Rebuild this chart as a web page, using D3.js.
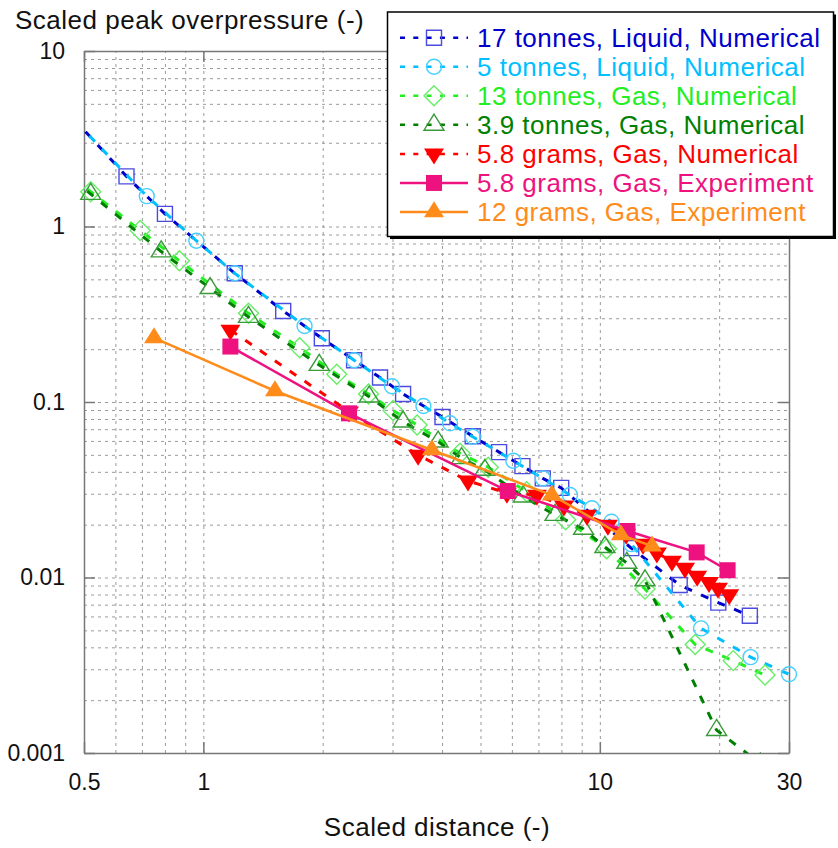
<!DOCTYPE html>
<html>
<head>
<meta charset="utf-8">
<script src="https://cdnjs.cloudflare.com/ajax/libs/d3/7.8.5/d3.min.js"></script>
<style>
  body { margin: 0; background: #fff; }
  svg { display: block; font-family: "Liberation Sans", Arial, sans-serif; }
</style>
</head>
<body>
<svg id="chart" width="838" height="848"></svg>
<script>

// Series data
const liquid17X = [0.47, 0.64, 0.80, 1.20, 1.59, 1.99, 2.40, 2.79, 3.19, 4.01, 4.78, 5.57, 6.38, 7.18, 7.99, 12.0, 15.9, 19.9, 23.9]
const liquid17Y = [4.13, 1.93, 1.18, 0.541, 0.330, 0.231, 0.173, 0.138, 0.111, 0.0821, 0.0638, 0.0518, 0.0431, 0.0367, 0.0324, 0.0147, 0.00906, 0.00719, 0.00605]

const liquid5X = [0.48, 0.72, 0.96, 1.20, 1.80, 2.40, 2.99, 3.59, 4.19, 4.78, 6.05, 7.18, 8.41, 9.55, 10.7, 12.0, 18.0, 24.0, 30.0]
const liquid5Y = [3.9, 1.49, 0.830, 0.541, 0.271, 0.173, 0.123, 0.0949, 0.0756, 0.0634, 0.0463, 0.0367, 0.0295, 0.0248, 0.0208, 0.0155, 0.00513, 0.00352, 0.00281]

const gas13X = [0.47, 0.52, 0.693, 0.87, 1.30, 1.75, 2.17, 2.61, 3.01, 3.46, 4.44, 5.23, 6.54, 8.2, 10.4, 13.0, 17.4, 21.7, 26.1]
const gas13Y = [1.89, 1.58, 0.95, 0.638, 0.320, 0.204, 0.144, 0.111, 0.0895, 0.0740, 0.0510, 0.0425, 0.0308, 0.0213, 0.0146, 0.0086, 0.00415, 0.00336, 0.00278]

const gas39X = [0.47, 0.52, 0.783, 1.04, 1.30, 1.96, 2.62, 3.19, 3.91, 4.48, 5.13, 6.41, 7.71, 9.10, 10.3, 11.7, 13.0, 19.7, 25.4]
const gas39Y = [1.85, 1.53, 0.720, 0.445, 0.305, 0.1625, 0.1072, 0.0772, 0.0594, 0.0478, 0.0410, 0.0289, 0.0227, 0.0189, 0.0149, 0.0121, 0.00962, 0.00135, 0.00087]

const grams58NumX = [1.17, 2.33, 3.48, 4.65, 5.83, 6.94, 8.12, 9.28, 10.48, 11.65, 12.85, 13.93, 15.2, 16.4, 17.6, 18.85, 19.86, 21.2]
const grams58NumY = [0.257, 0.088, 0.0499, 0.0355, 0.0303, 0.0295, 0.0256, 0.0227, 0.0199, 0.0177, 0.0155, 0.0138, 0.0124, 0.0113, 0.0102, 0.0094, 0.0087, 0.0080]

const grams58ExpX = [1.17, 2.33, 5.86, 11.74, 17.55, 21.0]
const grams58ExpY = [0.207, 0.0862, 0.0311, 0.0184, 0.0139, 0.0110]

const grams12ExpX = [0.751, 1.516, 3.77, 7.57, 11.3, 13.54]
const grams12ExpY = [0.232, 0.1155, 0.0533, 0.0295, 0.0175, 0.0151]

const seriesNames = [
    '17 tonnes, Liquid, Numerical',
    '5 tonnes, Liquid, Numerical',
    '13 tonnes, Gas, Numerical',
    '3.9 tonnes, Gas, Numerical',
    '5.8 grams, Gas, Numerical',
    '5.8 grams, Gas, Experiment',
    '12 grams, Gas, Experiment'
]

// Axis ticks
const xTickValues = [0.5, 1, 10, 30]
const xTickLabels = ['0.5', '1', '10', '30']
const yTickValues = [10, 1, 0.1, 0.01, 0.001]
const yTickLabels = ['10', '1', '0.1', '0.01', '0.001']

// Chart area
const plotLeft = 84, plotRight = 789, plotTop = 51, plotBottom = 753
const frameColor = '#777'

const svg = d3.select('#chart')

const x = d3.scaleLog().domain([0.5, 30]).range([plotLeft, plotRight])
const y = d3.scaleLog().domain([0.001, 10]).range([plotBottom, plotTop])

// Grid values: every 1..9 step of each decade
const gridX = []
const gridY = []
for (let d = -1; d <= 1; d++){
    for (let k = 1; k <= 9; k++){
        const v = k * Math.pow(10, d)
        if (v > 0.5 && v < 30) gridX.push(v)
    }
}
for (let d = -3; d <= 0; d++){
    for (let k = 1; k <= 9; k++){
        const v = k * Math.pow(10, d)
        if (v > 0.001 && v < 10) gridY.push(v)
    }
}

// Dotted grid
svg.append('g')
    .attr('transform', 'translate(0,' + plotBottom + ')')
    .call(d3.axisBottom(x).tickValues(gridX).tickSize(-(plotBottom - plotTop)).tickFormat(''))
    .call(g => g.select('.domain').remove())
    .selectAll('line')
    .attr('stroke', '#9a9a9a')
    .attr('stroke-width', 1)
    .attr('stroke-dasharray', '3,4')

svg.append('g')
    .attr('transform', 'translate(' + plotLeft + ',0)')
    .call(d3.axisLeft(y).tickValues(gridY).tickSize(-(plotRight - plotLeft)).tickFormat(''))
    .call(g => g.select('.domain').remove())
    .selectAll('line')
    .attr('stroke', '#9a9a9a')
    .attr('stroke-width', 1)
    .attr('stroke-dasharray', '3,4')

// Frame and major ticks
function styleAxis(g){
    g.select('.domain').attr('stroke', frameColor).attr('stroke-width', 1.5)
    g.selectAll('.tick line').attr('stroke', frameColor).attr('stroke-width', 1.5)
    g.selectAll('text').attr('font-size', 23).attr('fill', '#111').attr('font-family', '"Liberation Sans", Arial, sans-serif')
}

svg.append('g')
    .attr('transform', 'translate(0,' + plotBottom + ')')
    .call(d3.axisBottom(x).tickValues(xTickValues).tickSizeInner(-11).tickSizeOuter(0).tickPadding(21)
        .tickFormat((_, i) => xTickLabels[i]))
    .call(styleAxis)

svg.append('g')
    .attr('transform', 'translate(0,' + plotTop + ')')
    .call(d3.axisTop(x).tickValues(xTickValues).tickSizeInner(-11).tickSizeOuter(0).tickFormat(''))
    .call(styleAxis)

svg.append('g')
    .attr('transform', 'translate(' + plotLeft + ',0)')
    .call(d3.axisLeft(y).tickValues(yTickValues).tickSizeInner(-11).tickSizeOuter(0).tickPadding(19)
        .tickFormat((_, i) => yTickLabels[i]))
    .call(styleAxis)

svg.append('g')
    .attr('transform', 'translate(' + plotRight + ',0)')
    .call(d3.axisRight(y).tickValues(yTickValues).tickSizeInner(-11).tickSizeOuter(0).tickFormat(''))
    .call(styleAxis)

// Axis titles
svg.append('text')
    .attr('x', 15)
    .attr('y', 29)
    .attr('font-size', 26)
    .attr('letter-spacing', 0.5)
    .attr('fill', '#111')
    .text('Scaled peak overpressure (-)')

svg.append('text')
    .attr('x', 437)
    .attr('y', 836)
    .attr('text-anchor', 'middle')
    .attr('font-size', 26)
    .attr('letter-spacing', 0.5)
    .attr('fill', '#111')
    .text('Scaled distance (-)')

// Clips: lines stay in the plot, markers only cut at the bottom axis
const defs = svg.append('defs')
defs.append('clipPath').attr('id', 'plot-clip')
    .append('rect')
    .attr('x', plotLeft).attr('y', plotTop)
    .attr('width', plotRight - plotLeft).attr('height', plotBottom - plotTop)
defs.append('clipPath').attr('id', 'marker-clip')
    .append('rect')
    .attr('x', 0).attr('y', 0)
    .attr('width', 838).attr('height', plotBottom)

// Marker shapes
function markerPath(type){
    const p = d3.path()
    const tw = 20, th = 16
    if (type == 'square'){
        p.rect(-7.5, -7.5, 15, 15)
    } else if (type == 'bigSquare'){
        p.rect(-8, -8, 16, 16)
    } else if (type == 'circle'){
        p.moveTo(7.5, 0)
        p.arc(0, 0, 7.5, 0, 2 * Math.PI)
    } else if (type == 'diamond'){
        p.moveTo(0, -10); p.lineTo(10, 0); p.lineTo(0, 10); p.lineTo(-10, 0); p.closePath()
    } else if (type == 'triangleUp'){
        p.moveTo(0, -th * 2 / 3); p.lineTo(tw / 2, th / 3); p.lineTo(-tw / 2, th / 3); p.closePath()
    } else if (type == 'triangleDown'){
        p.moveTo(0, th * 2 / 3); p.lineTo(tw / 2, -th / 3); p.lineTo(-tw / 2, -th / 3); p.closePath()
    }
    return p.toString()
}

const seriesList = [
    {name: seriesNames[0], xs: liquid17X, ys: liquid17Y, color: '#0000cc', markerColor: '#4b4be0', marker: 'square', filled: false, dashed: true},
    {name: seriesNames[1], xs: liquid5X, ys: liquid5Y, color: '#00bfff', markerColor: '#45cfff', marker: 'circle', filled: false, dashed: true},
    {name: seriesNames[2], xs: gas13X, ys: gas13Y, color: '#22ee22', markerColor: '#66ee66', marker: 'diamond', filled: false, dashed: true},
    {name: seriesNames[3], xs: gas39X, ys: gas39Y, color: '#008000', markerColor: '#3a9a3a', marker: 'triangleUp', filled: false, dashed: true},
    {name: seriesNames[4], xs: grams58NumX, ys: grams58NumY, color: '#ff0000', markerColor: '#ff0000', marker: 'triangleDown', filled: true, dashed: true},
    {name: seriesNames[5], xs: grams58ExpX, ys: grams58ExpY, color: '#ee1180', markerColor: '#ee1180', marker: 'bigSquare', filled: true, dashed: false},
    {name: seriesNames[6], xs: grams12ExpX, ys: grams12ExpY, color: '#ff8c1a', markerColor: '#ff8c1a', marker: 'triangleUp', filled: true, dashed: false}
]

const line = d3.line()
    .x(d => x(d[0]))
    .y(d => y(d[1]))

// Draw Series
seriesList.forEach(function(s){
    const pts = s.xs.map((v, i) => [v, s.ys[i]])

    svg.append('path')
        .datum(pts)
        .attr('clip-path', 'url(#plot-clip)')
        .attr('fill', 'none')
        .attr('stroke', s.color)
        .attr('stroke-width', s.dashed ? 3 : 2.5)
        .attr('stroke-dasharray', s.dashed ? '8,10' : null)
        .attr('d', line)

    svg.append('g')
        .attr('clip-path', 'url(#marker-clip)')
        .selectAll('path')
        .data(pts.filter(d => d[0] >= 0.5))
        .enter()
        .append('path')
        .attr('transform', d => 'translate(' + x(d[0]) + ',' + y(d[1]) + ')')
        .attr('d', markerPath(s.marker))
        .attr('fill', s.filled ? s.markerColor : 'none')
        .attr('stroke', s.filled ? 'none' : s.markerColor)
        .attr('stroke-width', 1.4)
})

// Legend
const legend = svg.append('g')
legend.append('rect')
    .attr('x', 390).attr('y', 14.5)
    .attr('width', 446).attr('height', 224.5)
    .attr('fill', '#000')
legend.append('rect')
    .attr('x', 387.5).attr('y', 12)
    .attr('width', 446).attr('height', 224.5)
    .attr('fill', '#fff')
    .attr('stroke', '#000')
    .attr('stroke-width', 1.5)

const legendRows = legend.selectAll('g.legend-row')
    .data(seriesList)
    .enter()
    .append('g')
    .classed('legend-row', true)
    .attr('transform', (_, i) => 'translate(0,' + (37.7 + i * 29.05) + ')')

legendRows.append('line')
    .attr('x1', 400).attr('x2', 468)
    .attr('y1', 0).attr('y2', 0)
    .attr('stroke', d => d.color)
    .attr('stroke-width', 2.5)
    .attr('stroke-dasharray', d => d.dashed ? '5,8.3' : null)

legendRows.append('path')
    .attr('transform', 'translate(434,0)')
    .attr('d', d => markerPath(d.marker))
    .attr('fill', d => d.filled ? d.markerColor : 'none')
    .attr('stroke', d => d.filled ? 'none' : d.markerColor)
    .attr('stroke-width', 1.4)

legendRows.append('text')
    .attr('x', 477)
    .attr('y', 9)
    .attr('font-size', 26)
    .attr('letter-spacing', 0.5)
    .attr('fill', d => d.color)
    .text(d => d.name)

</script>
</body>
</html>
